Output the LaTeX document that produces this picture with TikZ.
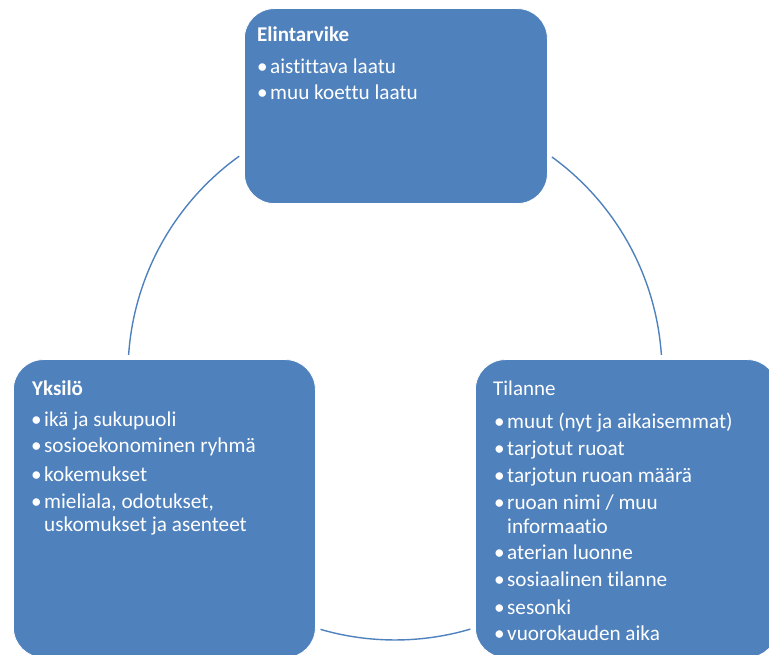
\documentclass[tikz,border=0pt]{standalone}
\usepackage{fontspec}
\setmainfont{Carlito}[Ligatures={NoCommon}]
\usetikzlibrary{calc}
\definecolor{boxblue}{HTML}{4F81BD}
\begin{document}
\begin{tikzpicture}[x=1pt,y=1pt,
  box/.style={draw=white,line width=0.8pt,fill=boxblue,rounded corners=30pt,inner sep=0pt},
  ttl/.style={anchor=base west,inner sep=0pt,text=white,font=\fontsize{21}{24}\selectfont},
  itm/.style={anchor=base west,inner sep=0pt,text=white,font=\fontsize{21.2}{24}\selectfont},
  link/.style={draw=boxblue,line width=1.4pt}]
\useasboundingbox (0,0) rectangle (769,655);
\newcommand{\bul}{\llap{•\hspace{2.5pt}}}
% boxes
\node[box,minimum width=303pt,minimum height=195pt,anchor=south west] (top) at (244,451) {};
\node[box,minimum width=302pt,minimum height=298pt,anchor=south west] (left) at (13,-3) {};
\node[box,minimum width=302pt,minimum height=298pt,anchor=south west] (right) at (475,-3) {};
% circle connectors
\coordinate (c) at (395,282);
\coordinate (l1) at ($(c)+(176.1:267)$);
\coordinate (r1) at ($(c)+(54.0:267)$);
\coordinate (b1) at ($(c)+(253.8:267)$);
\draw[link] (l1) arc[start angle=176.1,end angle=125.7,radius=267];
\draw[link] (r1) arc[start angle=54.0,end angle=3.9,radius=267];
\draw[link] (b1) arc[start angle=253.8,end angle=286.4,radius=267];
% top text
\node[ttl,font=\fontsize{21}{24}\selectfont\bfseries] (tt) at (257,613.3) {Elintarvike};
\node[itm] (t1) at (270,581) {\bul aistittava laatu};
\node[itm] (t2) at (270,555) {\bul muu koettu laatu};
% left text
\node[ttl,font=\fontsize{21}{24}\selectfont\bfseries] (lt) at (32,259) {Yksilö};
\node[itm] (l1t) at (44,228.3) {\bul ikä ja sukupuoli};
\node[itm] (l2t) at (44,202.3) {\bul sosioekonominen ryhmä};
\node[itm] (l3t) at (44,173.3) {\bul kokemukset};
\node[itm] (l4t) at (44,146.7) {\bul mieliala, odotukset,};
\node[itm] (l5t) at (44,123.3) {uskomukset ja asenteet};
% right text
\node[ttl] (rt) at (493,259) {Tilanne};
\node[itm] (r1t) at (507,226.7) {\bul muut (nyt ja aikaisemmat)};
\node[itm] (r2t) at (507,199.3) {\bul tarjotut ruoat};
\node[itm] (r3t) at (507,172.3) {\bul tarjotun ruoan määrä};
\node[itm] (r4t) at (507,145) {\bul ruoan nimi / muu};
\node[itm] (r5t) at (507,121) {informaatio};
\node[itm] (r6t) at (507,95) {\bul aterian luonne};
\node[itm] (r7t) at (507,68.3) {\bul sosiaalinen tilanne};
\node[itm] (r8t) at (507,40.7) {\bul sesonki};
\node[itm] (r9t) at (507,14.3) {\bul vuorokauden aika};
\end{tikzpicture}
\end{document}
